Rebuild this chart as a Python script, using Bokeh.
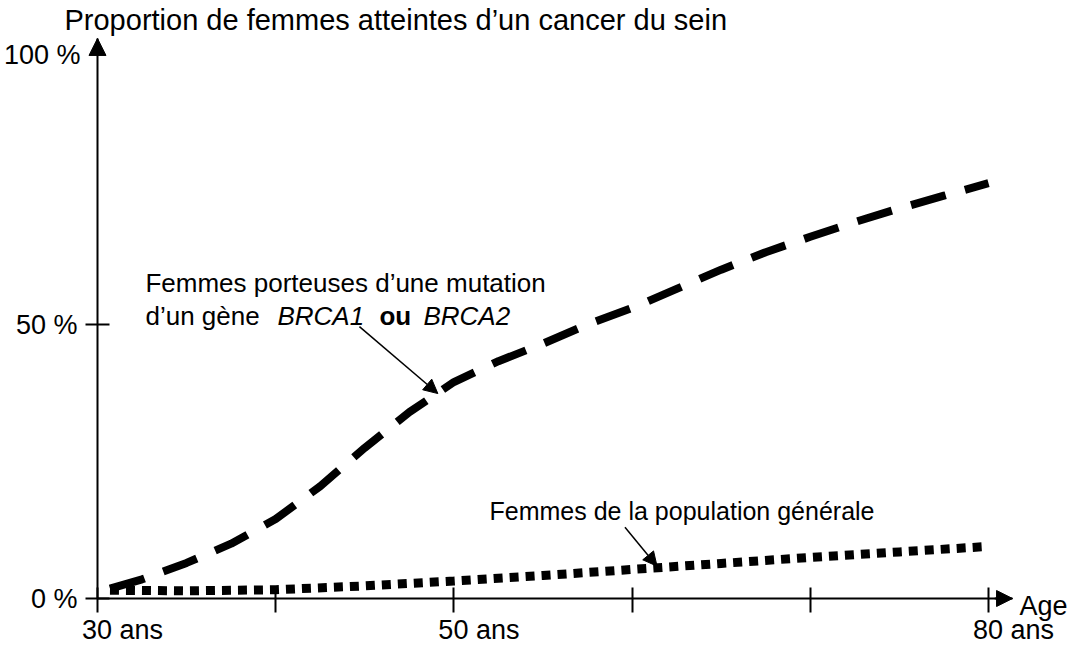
from bokeh.plotting import figure
from bokeh.models import (Range1d, FixedTicker, Arrow, NormalHead, Label, LabelSet,
                          ColumnDataSource, LinearAxis)
from bokeh.core.properties import value
from bokeh.embed import file_html
from bokeh.resources import INLINE

# ---- data ----
AGE_BRCA = [30.7, 32.5, 35, 37.5, 40, 42.5, 45, 47.5, 50, 52.5, 55, 57.5, 60,
            62.5, 65, 67.5, 70, 72.5, 75, 77.5, 80]
PCT_BRCA = [1.8, 3.5, 6.5, 10, 14.5, 20.5, 27.5, 34, 39.5, 43.3, 46.5, 50, 53,
            56.5, 60, 63.2, 66, 68.7, 71.2, 73.5, 75.8]
AGE_POP = [30.7, 35, 40, 45, 50, 55, 60, 65, 70, 75, 80]
PCT_POP = [1.5, 1.4, 1.6, 2.3, 3.2, 4.2, 5.3, 6.4, 7.5, 8.5, 9.5]

X_TICKS = [30, 40, 50, 60, 70, 80]
X_TICK_LABELS = ["30 ans", "", "50 ans", "", "", "80 ans"]
Y_TICKS = [0, 50]
Y_TICK_LABELS = ["0 %", "50 %"]
Y_TOP_VALUE = 100
Y_TOP_LABEL = "100 %"
TITLE = "Proportion de femmes atteintes d’un cancer du sein"
X_LABEL = "Age"
NOTE_BRCA_LINE1 = "Femmes porteuses d’une mutation"
NOTE_BRCA_LINE2 = ["d’un gène", "BRCA1", "ou", "BRCA2"]
NOTE_POP = "Femmes de la population générale"

FONT = "Liberation Sans"
FS = "27px"

# axes extents (arrow tips) and view ranges
AX_X0, AX_X1 = 30, 81.35
AX_Y0, AX_Y1 = 0, 102.2
X_VIEW = (24.557, 84.546)
Y_VIEW = (-8.759, 109.124)

p = figure(width=1069, height=646,
           x_range=Range1d(*X_VIEW), y_range=Range1d(*Y_VIEW),
           x_axis_location=None, y_axis_location=None,
           output_backend="svg", toolbar_location=None,
           min_border_left=0, min_border_right=0,
           min_border_top=0, min_border_bottom=0)
p.grid.visible = False
p.outline_line_color = None
p.background_fill_color = "white"
p.border_fill_color = "white"

# x axis
xa = LinearAxis(fixed_location=0, bounds=(AX_X0, AX_X1))
xa.ticker = FixedTicker(ticks=X_TICKS, minor_ticks=[])
xa.major_label_overrides = {t: "" for t in X_TICKS}
xa.major_label_text_font_size = "1px"
xa.major_label_standoff = 0
xa.major_tick_in = 11
xa.major_tick_out = 14
xa.minor_tick_in = 0
xa.minor_tick_out = 0
xa.axis_line_width = 2
xa.major_tick_line_width = 2
xa.axis_line_color = "black"
xa.major_tick_line_color = "black"
p.add_layout(xa, "below")

# y axis
ya = LinearAxis(fixed_location=AX_X0, bounds=(AX_Y0, AX_Y1))
ya.ticker = FixedTicker(ticks=Y_TICKS, minor_ticks=[])
ya.major_label_overrides = dict(zip(Y_TICKS, Y_TICK_LABELS))
ya.major_label_text_font = FONT
ya.major_label_text_font_size = FS
ya.major_label_text_color = "black"
ya.major_label_standoff = 8
ya.major_label_orientation = "horizontal"
ya.major_tick_in = 12
ya.major_tick_out = 12
ya.minor_tick_in = 0
ya.minor_tick_out = 0
ya.axis_line_width = 2
ya.major_tick_line_width = 2
ya.axis_line_color = "black"
ya.major_tick_line_color = "black"
p.add_layout(ya, "left")

# curves
p.line(AGE_BRCA, PCT_BRCA, line_color="black", line_width=8,
       line_dash="36 20", line_cap="butt", line_join="round")
p.line(AGE_POP, PCT_POP, line_color="black", line_width=9,
       line_dash="9 7", line_cap="butt")

# axis arrow heads
p.add_layout(Arrow(x_start=AX_X0, y_start=AX_Y1 - 2, x_end=AX_X0, y_end=AX_Y1,
                   line_width=2, line_color="black",
                   end=NormalHead(size=17, fill_color="black", line_color="black")))
p.add_layout(Arrow(x_start=AX_X1 - 1, y_start=AX_Y0, x_end=AX_X1, y_end=AX_Y0,
                   line_width=2, line_color="black",
                   end=NormalHead(size=16, fill_color="black", line_color="black")))

# pointer arrows
p.add_layout(Arrow(x_start=44.7, y_start=49.6, x_end=49.1, y_end=37.4,
                   line_width=1.5, line_color="black",
                   end=NormalHead(size=14, fill_color="black", line_color="black")))
p.add_layout(Arrow(x_start=59.6, y_start=13.0, x_end=61.4, y_end=5.9,
                   line_width=1.5, line_color="black",
                   end=NormalHead(size=14, fill_color="black", line_color="black")))

def lab(text, x, y, xo=0, yo=0, align="left", style="normal", size=FS):
    p.add_layout(Label(x=x, y=y, x_offset=xo, y_offset=yo, text=text,
                       text_font=FONT, text_font_size=size, text_color="black",
                       text_align=align, text_baseline="middle",
                       text_font_style=style))

# title and axis texts
lab(TITLE, AX_X0, AX_Y1, xo=-33, yo=18, size="29px")
lab(Y_TOP_LABEL, AX_X0, Y_TOP_VALUE, xo=-17, yo=-5, align="right")
lab(X_LABEL, AX_X1, AX_Y0, xo=7, yo=-7)

src = ColumnDataSource(dict(
    x=[t for t, s in zip(X_TICKS, X_TICK_LABELS) if s],
    y=[AX_Y0 for s in X_TICK_LABELS if s],
    text=[s for s in X_TICK_LABELS if s]))
p.add_layout(LabelSet(x="x", y="y", text="text", source=src, x_offset=25, y_offset=-31,
                      text_font=value(FONT), text_font_size=value(FS),
                      text_color="black", text_align="center", text_baseline="middle"))

# annotations
lab(NOTE_BRCA_LINE1, 32.69, 57.5, size="26px")
offs = [0, 132, 234, 278]
styles = ["normal", "italic", "bold", "italic"]
for t, o, s in zip(NOTE_BRCA_LINE2, offs, styles):
    lab(t, 32.69, 51.6, xo=o, style=s, size="26px")
lab(NOTE_POP, 52.0, 15.9, size="25px")

open("out.html", "w").write(file_html(p, INLINE))
